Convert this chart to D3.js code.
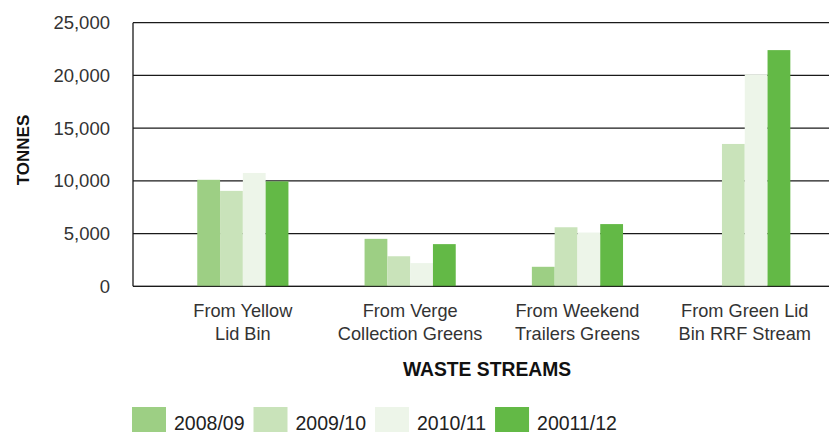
<!DOCTYPE html>
<html>
<head>
<meta charset="utf-8">
<script src="https://cdn.jsdelivr.net/npm/d3@7"></script>
<style>
  html, body { margin: 0; padding: 0; background: #fff; }
  svg { display: block; }
</style>
</head>
<body>
<svg id="chart" width="829" height="432"></svg>
<script>
// ---- data ----
const categories = [
  "From Yellow Lid Bin",
  "From Verge Collection Greens",
  "From Weekend Trailers Greens",
  "From Green Lid Bin RRF Stream"
];
const categoryLines = [
  ["From Yellow", "Lid Bin"],
  ["From Verge", "Collection Greens"],
  ["From Weekend", "Trailers Greens"],
  ["From Green Lid", "Bin RRF Stream"]
];
const seriesNames = ["2008/09", "2009/10", "2010/11", "20011/12"];
const values2008 = [10100, 4500, 1850, 0];
const values2009 = [9050, 2850, 5600, 13500];
const values2010 = [10750, 2200, 5100, 20100];
const values2011 = [9950, 4000, 5900, 22400];
const yTicks = [0, 5000, 10000, 15000, 20000, 25000];
const yTitle = "TONNES";
const xTitle = "WASTE STREAMS";

const seriesValues = [values2008, values2009, values2010, values2011];
const colors = ["#9dcf84", "#c9e3ba", "#edf5e9", "#63b946"];

// ---- layout ----
const svg = d3.select("#chart");
const axisX = 133;
const rightX = 829;
const font = "'Liberation Sans', Arial, Helvetica, sans-serif";

const y = d3.scaleLinear().domain([0, 25000]).range([286.3, 22.7]);
const x0 = d3.scaleBand().domain(categories).range([159.2, 828.4]).padding(0);
const x1 = d3.scaleBand().domain(seriesNames).range([0, x0.bandwidth()])
  .paddingInner(0).paddingOuter(1.67);

// gridlines
const grid = svg.append("g");
grid.selectAll("line").data(yTicks).join("line")
  .attr("x1", axisX).attr("x2", rightX)
  .attr("y1", d => y(d)).attr("y2", d => y(d))
  .attr("stroke", "#1a1a1a").attr("stroke-width", 1.3);

// y axis (labels)
const yAxis = d3.axisLeft(y).tickValues(yTicks).tickFormat(d3.format(",")).tickSize(0).tickPadding(23);
const yg = svg.append("g").attr("transform", `translate(${axisX},0)`).call(yAxis);
yg.select(".domain").remove();
yg.selectAll("text").attr("font-family", font).attr("font-size", 18.5).attr("fill", "#333");

// vertical axis line
svg.append("line")
  .attr("x1", axisX).attr("x2", axisX)
  .attr("y1", y(25000)).attr("y2", y(0))
  .attr("stroke", "#1a1a1a").attr("stroke-width", 1.3);

// bars
const groups = svg.append("g").selectAll("g").data(categories).join("g")
  .attr("transform", d => `translate(${x0(d)},0)`);
groups.selectAll("rect")
  .data((c, i) => seriesNames.map((s, j) => ({ s, j, v: seriesValues[j][i] })))
  .join("rect")
  .attr("x", d => x1(d.s))
  .attr("width", x1.bandwidth())
  .attr("y", d => y(d.v))
  .attr("height", d => y(0) - y(d.v))
  .attr("fill", d => colors[d.j]);

// zero line over bars
svg.append("line")
  .attr("x1", axisX).attr("x2", rightX)
  .attr("y1", y(0)).attr("y2", y(0))
  .attr("stroke", "#1a1a1a").attr("stroke-width", 1.3).attr("opacity", 0.7);

// category labels
const catG = svg.append("g");
categories.forEach((c, i) => {
  const t = catG.append("text")
    .attr("x", x0(c) + x0.bandwidth() / 2)
    .attr("y", 316.7)
    .attr("text-anchor", "middle")
    .attr("font-family", font).attr("font-size", 18.2).attr("fill", "#333");
  categoryLines[i].forEach((ln, k) => {
    t.append("tspan").attr("x", x0(c) + x0.bandwidth() / 2).attr("dy", k === 0 ? 0 : 23.3).text(ln);
  });
});

// axis titles
svg.append("text")
  .attr("x", 487).attr("y", 376)
  .attr("text-anchor", "middle")
  .attr("font-family", font).attr("font-weight", "bold").attr("font-size", 19.3)
  .attr("fill", "#111").text(xTitle);

svg.append("text")
  .attr("transform", "translate(28.5,150) rotate(-90)")
  .attr("text-anchor", "middle")
  .attr("font-family", font).attr("font-weight", "bold").attr("font-size", 17)
  .attr("fill", "#111").text(yTitle);

// legend
const legend = svg.append("g");
let lx = 132;
seriesNames.forEach((s, j) => {
  legend.append("rect").attr("x", lx).attr("y", 407).attr("width", 34).attr("height", 27)
    .attr("fill", colors[j]);
  const t = legend.append("text").attr("x", lx + 42).attr("y", 429.5)
    .attr("font-family", font).attr("font-size", 19.5).attr("fill", "#222").text(s);
  const w = t.node().getComputedTextLength();
  lx = lx + 42 + w + 9;
});
</script>
</body>
</html>
